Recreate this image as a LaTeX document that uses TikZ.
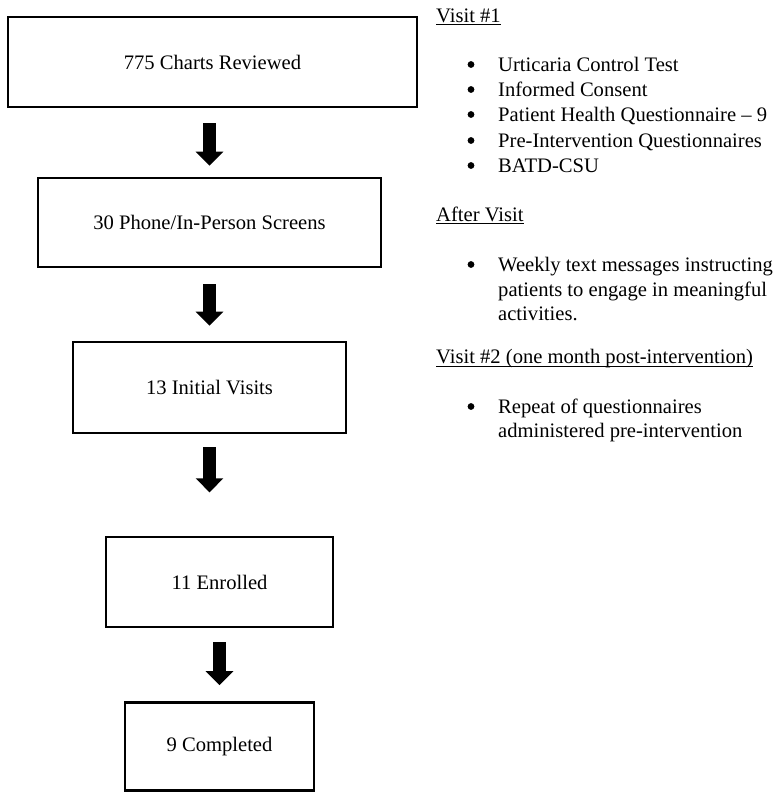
\documentclass[tikz,border=0pt]{standalone}
\usepackage{fontspec}
\setmainfont{Liberation Serif}
\usetikzlibrary{arrows.meta,calc}
\begin{document}
\begin{tikzpicture}[x=1pt,y=-1pt,
  font=\fontsize{20.6}{25}\selectfont,
  box/.style={draw, line width=2.6pt, inner sep=0pt},
  blockarrow/.style={line width=13.5pt, -{Triangle[width=27pt,length=14pt]}},
  txt/.style={anchor=base west, inner sep=0pt},
  bul/.style={circle, fill, inner sep=0pt, minimum size=6.8pt},
  uline/.style={line width=0.9pt}]
\useasboundingbox (0,0) rectangle (777,793);
% flow boxes
\node[box, minimum width=409pt, minimum height=90pt] (b1) at (212.5,62) {775 Charts Reviewed};
\node[box, minimum width=343pt, minimum height=89pt] (b2) at (209.5,222.5) {30 Phone/In-Person Screens};
\node[box, minimum width=273pt, minimum height=91pt] (b3) at (209.5,387.5) {13 Initial Visits};
\node[box, minimum width=227pt, minimum height=90pt] (b4) at (219.5,582) {11 Enrolled};
\node[box, minimum width=189pt, minimum height=88pt] (b5) at (219.5,746.5) {9 Completed};
% arrows
\draw[blockarrow] ($(b1.south -| b2.north)+(0,15)$) -- ($(b2.north)+(0,-11)$);
\draw[blockarrow] ($(b2.south -| b3.north)+(0,16)$) -- ($(b3.north)+(0,-15)$);
\draw[blockarrow] ($(b3.south)+(0,13)$) -- ++(0,45);
\draw[blockarrow] ($(b4.south)+(0,14)$) -- ($(b5.north)+(0,-16)$);
% right column
\node[txt] (h1) at (436,22) {Visit \#1};
\draw[uline] ([yshift=-2.5pt]h1.base west) -- ([yshift=-2.5pt]h1.base east);
\node[bul] (p1) at (471,64.5) {}; \node[txt] (t1) at (498,71) {Urticaria Control Test};
\node[bul] (p2) at (471,89.5) {}; \node[txt] (t2) at (498,96) {Informed Consent};
\node[bul] (p3) at (471,114.5) {}; \node[txt] (t3) at (498,121) {Patient Health Questionnaire – 9};
\node[bul] (p4) at (471,140.5) {}; \node[txt] (t4) at (498,147) {Pre-Intervention Questionnaires};
\node[bul] (p5) at (471,165.5) {}; \node[txt] (t5) at (498,172) {BATD-CSU};

\node[txt] (h2) at (436,221) {After Visit};
\draw[uline] ([yshift=-2.5pt]h2.base west) -- ([yshift=-2.5pt]h2.base east);
\node[bul] (p6) at (471,264.5) {};
\node[txt] (t6a) at (498,271) {Weekly text messages instructing};
\node[txt] (t6b) at (498,296) {patients to engage in meaningful};
\node[txt] (t6c) at (498,320) {activities.};

\node[txt] (h3) at (436,363) {Visit \#2 (one month post-intervention)};
\draw[uline] ([yshift=-3pt]h3.base west) -- ([yshift=-3pt]h3.base east);
\node[bul] (p7) at (471,406.5) {};
\node[txt] (t7a) at (498,413) {Repeat of questionnaires};
\node[txt] (t7b) at (498,437) {administered pre-intervention};
\end{tikzpicture}
\end{document}
